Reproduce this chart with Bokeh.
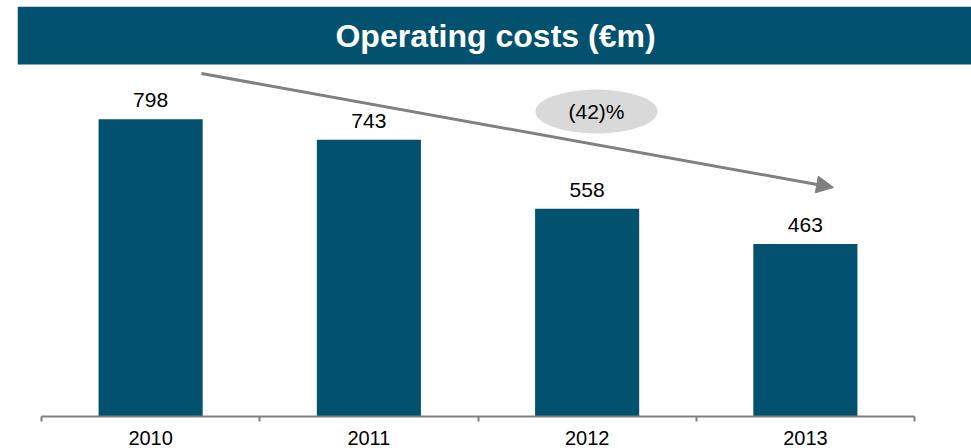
from bokeh.plotting import figure
from bokeh.models import (Range1d, FixedTicker, BoxAnnotation, Label, Arrow,
                          NormalHead, ColumnDataSource)
from bokeh.core.properties import value
from bokeh.embed import file_html
from bokeh.resources import INLINE

# ---- data ----
years = ["2010", "2011", "2012", "2013"]
costs = [798, 743, 558, 463]
change_label = "(42)%"
title_text = "Operating costs (\u20acm)"

TEAL = "#02516F"
GRAY = "#808080"
FONT = "Liberation Sans"

n = len(years)
centers = [i + 0.5 for i in range(n)]
src = ColumnDataSource(dict(x=centers, top=costs, lab=[str(v) for v in costs]))

# frame spans x 17..971 and y 6..416; categories 0..n map to x 41..914
p = figure(width=971, height=448,
           min_border_left=17, min_border_right=0, min_border_top=6,
           min_border_bottom=32,
           x_range=Range1d(-0.11, 4.2611), y_range=Range1d(0, 1101),
           y_axis_location=None, output_backend="svg", toolbar_location=None)
p.outline_line_color = None
p.xgrid.visible = False
p.ygrid.visible = False
p.background_fill_color = "white"
p.border_fill_color = "white"

# title bar
p.add_layout(BoxAnnotation(bottom=945, fill_color=TEAL, fill_alpha=1.0,
                           line_color=None))
p.add_layout(Label(x=478, y=381, x_units="screen", y_units="screen",
                   text=title_text, text_align="center", text_baseline="middle",
                   text_font=FONT, text_font_style="bold",
                   text_font_size="32px", text_color="white"))

# bars
p.vbar(x="x", top="top", width=0.477, source=src, fill_color=TEAL,
       line_color=None)

# value labels
p.text(x="x", y="top", text="lab", source=src, text_align="center",
       text_baseline="alphabetic", y_offset=-19,
       text_font=value(FONT), text_font_size="21px", text_color="#000000")

# x axis with boundary ticks
ax = p.xaxis[0]
ax.bounds = (0, n)
ax.ticker = FixedTicker(ticks=centers, minor_ticks=list(range(n + 1)))
ax.major_label_overrides = {c: y for c, y in zip(centers, years)}
ax.major_tick_line_color = None
ax.major_tick_out = 0
ax.major_tick_in = 0
ax.minor_tick_out = 5
ax.minor_tick_in = 0
ax.minor_tick_line_color = GRAY
ax.minor_tick_line_width = 2
ax.axis_line_color = GRAY
ax.axis_line_width = 2
ax.major_label_standoff = 9
ax.major_label_text_font = FONT
ax.major_label_text_font_size = "20px"
ax.major_label_text_color = "#000000"

# trend arrow
p.add_layout(Arrow(x_start=0.733, y_start=921, x_end=3.629, y_end=615,
                   line_color=GRAY, line_width=3,
                   end=NormalHead(size=17, fill_color=GRAY, line_color=GRAY)))

# change bubble
p.ellipse(x=[2.543], y=[819], width=0.559, height=118,
          fill_color="#D9D9D9", line_color=None)
p.add_layout(Label(x=2.543, y=819, text=change_label, text_align="center",
                   text_baseline="middle", text_font=FONT,
                   text_font_size="21px", text_color="#000000"))

open("out.html", "w").write(file_html(p, INLINE))
